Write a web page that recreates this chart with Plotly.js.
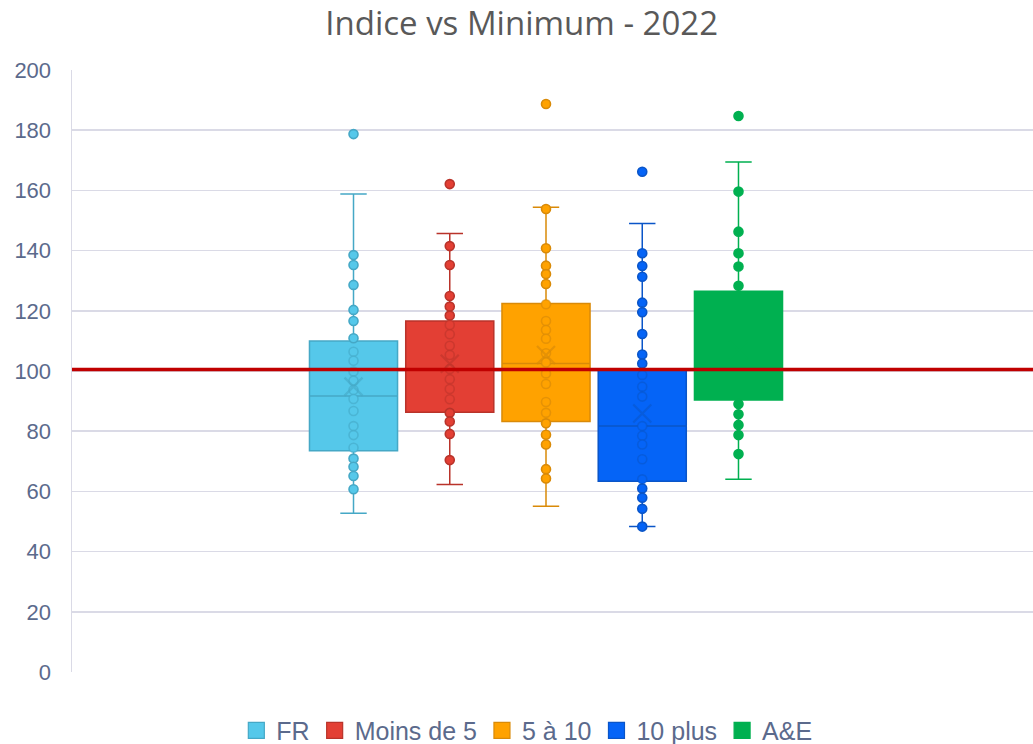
<!DOCTYPE html>
<html>
<head>
<meta charset="utf-8">
<script src="https://cdn.plot.ly/plotly-3.0.1.min.js"></script>
<style>
  html, body { margin: 0; padding: 0; background: #fff; }
  #chart { width: 1033px; height: 744px; }
</style>
</head>
<body>
<div id="chart"></div>
<script>
// series names, in legend order
const seriesNames = ["FR", "Moins de 5", "5 à 10", "10 plus", "A&E"];

// individual points
const frPoints = [178.7, 138.5, 135.2, 128.6, 120.3, 116.6, 110.9, 106.4, 103.4, 99.8, 96.8, 93.7,
                  90.7, 86.7, 81.7, 78.7, 74.5, 70.9, 68.2, 65.1, 60.7];
const moinsPoints = [162.1, 141.5, 135.2, 124.9, 121.4, 118.4, 115.3, 112.2, 108.4, 105.3, 100.7,
                     97.3, 94.0, 90.6, 86.1, 83.2, 79.1, 70.4];
const cinqPoints = [188.7, 153.8, 140.8, 135.0, 132.2, 128.9, 122.2, 116.6, 113.6, 110.7, 105.9,
                    102.8, 99.2, 95.7, 89.7, 86.1, 82.6, 78.8, 75.6, 67.4, 64.3];
const dixPoints = [166.2, 139.1, 134.9, 131.3, 122.7, 119.5, 112.3, 105.5, 102.5, 98.7, 94.8, 91.5,
                   81.7, 78.5, 75.6, 70.7, 64.0, 61.0, 57.9, 54.2, 48.3];
const aePoints = [184.7, 159.6, 146.3, 139.1, 134.7, 128.3, 89.0, 85.6, 82.1, 78.7, 72.4];

// box statistics
const q1Vals = [73.5, 86.3, 83.2, 63.4, 90.4];
const medianVals = [91.7, 100.5, 102.5, 81.7, 106.0];
const q3Vals = [110.0, 116.6, 122.4, 100.3, 126.5];
const lowerVals = [52.7, 62.3, 55.1, 48.3, 64.0];
const upperVals = [158.8, 145.7, 154.4, 149.0, 169.4];
const meanVals = [94.8, 102.4, 105.3, 85.9, 107.0];

const minimumLine = 100.5;

const allPoints = [frPoints, moinsPoints, cinqPoints, dixPoints, aePoints];

const FILLS = ["#55c8ea", "#e33f34", "#ffa200", "#0564f7", "#00b050"];
const EDGES = ["#45a8c6", "#b9332a", "#d98a08", "#0a55c8", "#00b050"];
const EDGES_FADED = ["rgba(69,168,198,0.6)", "rgba(185,51,42,0.55)", "rgba(217,138,8,0.65)",
                     "rgba(10,85,200,0.55)", "rgba(0,176,80,1)"];

const TEXT_COLOR = "#5b6a8c";
const GRID_COLOR = "#dadae6";

let traces = [];

// boxes (box layer sits under the scatter layer)
for(let i = 0; i < seriesNames.length; i++){
    traces.push({
        type: "box",
        name: seriesNames[i],
        x: [i + 1],
        q1: [q1Vals[i]],
        median: [medianVals[i]],
        q3: [q3Vals[i]],
        lowerfence: [lowerVals[i]],
        upperfence: [upperVals[i]],
        width: 0.915,
        whiskerwidth: 0.3,
        boxpoints: false,
        fillcolor: FILLS[i],
        line: { color: EDGES[i], width: 1.5 },
        showlegend: false,
        hoverinfo: "skip",
    });
}

// points: inside the box they look hollow (same fill as the box)
for(let i = 0; i < seriesNames.length; i++){
    const pts = allPoints[i];
    const lineCols = pts.map(v => (v > q1Vals[i] && v < q3Vals[i]) ? EDGES_FADED[i] : EDGES[i]);
    traces.push({
        type: "scatter",
        mode: "markers",
        x: pts.map(() => i + 1),
        y: pts,
        showlegend: false,
        hoverinfo: "skip",
        marker: {
            symbol: "circle",
            size: 9,
            color: FILLS[i],
            line: { color: lineCols, width: 1.6 },
        },
    });
}

// mean markers
for(let i = 0; i < seriesNames.length; i++){
    traces.push({
        type: "scatter",
        mode: "markers",
        x: [i + 1],
        y: [meanVals[i]],
        showlegend: false,
        hoverinfo: "skip",
        marker: {
            symbol: "x-thin-open",
            size: 18,
            color: EDGES_FADED[i],
            line: { color: EDGES_FADED[i], width: 2.2 },
        },
    });
}

// legend entries: bigger squares than the box legend symbol
for(let i = 0; i < seriesNames.length; i++){
    traces.push({
        type: "scatter",
        mode: "markers",
        name: seriesNames[i],
        x: [null],
        y: [null],
        hoverinfo: "skip",
        marker: {
            symbol: "square",
            size: 16,
            color: FILLS[i],
            line: { color: EDGES[i], width: 1.2 },
        },
    });
}

const layout = {
    width: 1033,
    height: 744,
    margin: { l: 72, r: 0, t: 70, b: 72, pad: 0 },
    paper_bgcolor: "#ffffff",
    plot_bgcolor: "#ffffff",
    font: { family: "Liberation Sans, Arial, sans-serif", color: TEXT_COLOR },
    title: {
        text: "Indice vs Minimum - 2022",
        font: { family: "Open Sans, sans-serif", size: 33, color: "#595959" },
        x: 0.505,
        xref: "container",
        xanchor: "center",
        y: 0.968,
        yref: "container",
        yanchor: "middle",
    },
    xaxis: {
        range: [-1.925, 8.06],
        showgrid: false,
        zeroline: false,
        showticklabels: false,
        showline: false,
        fixedrange: true,
    },
    yaxis: {
        range: [0, 200],
        dtick: 20,
        tick0: 0,
        showgrid: true,
        gridcolor: GRID_COLOR,
        gridwidth: 1.5,
        zeroline: false,
        showline: true,
        linecolor: GRID_COLOR,
        linewidth: 1.5,
        ticks: "",
        ticklabelstandoff: 15,
        tickfont: { family: "Liberation Sans, Arial, sans-serif", size: 22, color: TEXT_COLOR },
        fixedrange: true,
    },
    shapes: [{
        type: "line",
        xref: "paper",
        yref: "y",
        x0: 0, x1: 1,
        y0: minimumLine, y1: minimumLine,
        line: { color: "#c00000", width: 3.5 },
        layer: "above",
    }],
    showlegend: true,
    legend: {
        orientation: "h",
        xref: "container",
        yref: "container",
        x: 0.51,
        xanchor: "center",
        y: 0.018,
        yanchor: "middle",
        font: { family: "Liberation Sans, Arial, sans-serif", size: 25, color: TEXT_COLOR },
        itemsizing: "trace",
        traceorder: "normal",
    },
};

Plotly.newPlot("chart", traces, layout, { displayModeBar: false, staticPlot: true });
</script>
</body>
</html>
